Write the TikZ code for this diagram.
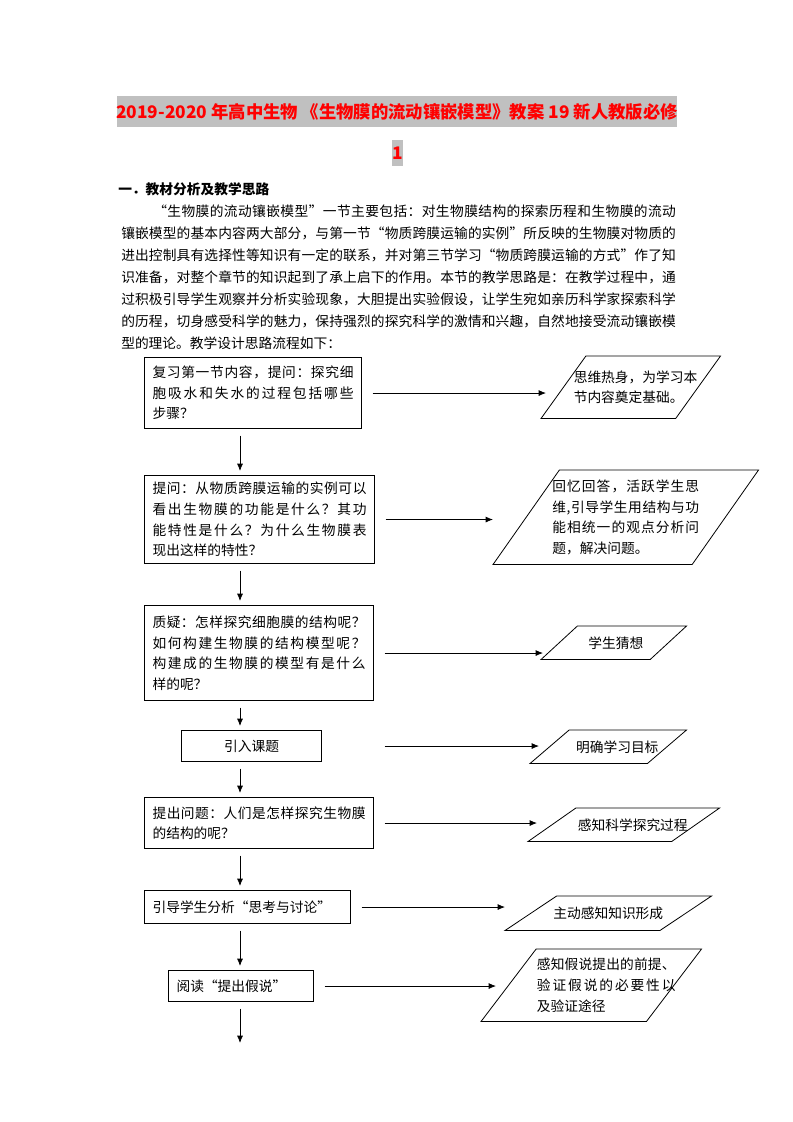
\documentclass[tikz,border=0pt]{standalone}
\usepackage{fontspec}
\setmainfont{Noto Sans CJK SC}
\usepackage{xcolor}
\usepackage{tikz}
\usetikzlibrary{arrows.meta,calc}

% etaler une ligne de caracteres sur une largeur donnee
\def\etale#1{\ifx#1\relax\unskip\else#1\hskip 0pt plus 1fil\relax\expandafter\etale\fi}
\newcommand\ligne[2]{\makebox[#1][s]{\etale#2\relax}}

\definecolor{surlignage}{RGB}{192,192,192}

\begin{document}
\begin{tikzpicture}[x=0.75pt,y=-0.75pt]
    % Styles (MODIFIABLES)
    \tikzstyle{fleche}=[-{Latex[length=5.5pt,width=4.5pt]},line width=0.6pt]
    \tikzstyle{descente}=[fleche,shorten <=5pt,shorten >=3pt]
    \tikzstyle{laterale}=[fleche,shorten <=8pt]
    \tikzstyle{trait}=[line width=0.6pt]
    \tikzstyle{titre}=[text=red,inner sep=0pt,font=\bfseries\fontsize{13}{16}\selectfont]
    \tikzstyle{texte}=[anchor=west,inner sep=0pt,font=\fontsize{10.3}{15}\selectfont]
    \tikzstyle{etape}=[draw,line width=0.8pt,anchor=north west,inner xsep=6pt,inner ysep=2pt,align=left,font=\fontsize{10.3}{15.4}\selectfont]
    \tikzstyle{sortie}=[anchor=north west,inner sep=2pt,align=left,font=\fontsize{10.3}{15.4}\selectfont]
    % Contour en parallelogramme d'un noeud sortie (#2 : decalage du contour)
    \def\contour#1#2{\draw[trait] ($(#1.north west)!0.25!(#1.north east)+(#2,0)$) -- ($(#1.north east)+(#2,0)$) -- ($(#1.south east)!0.25!(#1.south west)+(#2,0)$) -- ($(#1.south west)+(#2,0)$) -- cycle;}
    % Page
    \fill[white] (0,0) rectangle (793,1122);
    \useasboundingbox (0,0) rectangle (793,1122);
    % Titre
    \fill[surlignage] (117,96) rectangle (677,127);
    \fill[surlignage] (392,140) rectangle (403,166);
    \node[titre] (T1) at (397,111.5) {2019-2020 年高中生物 《生物膜的流动镶嵌模型》教案 19 新人教版必修};
    \node[titre] (T2) at (397.5,153) {1};
    % Texte
    \node[texte,font=\bfseries\fontsize{10.3}{15}\selectfont] (H) at (118,189) {一．教材分析及教学思路};
    \node[texte] (L1) at (153,211) {\ligne{392pt}{“生物膜的流动镶嵌模型”一节主要包括：对生物膜结构的探索历程和生物膜的流动}};
    \node[texte] (L2) at (121,233) {\ligne{416pt}{镶嵌模型的基本内容两大部分，与第一节“物质跨膜运输的实例”所反映的生物膜对物质的}};
    \node[texte] (L3) at (121,255) {\ligne{416pt}{进出控制具有选择性等知识有一定的联系，并对第三节学习“物质跨膜运输的方式”作了知}};
    \node[texte] (L4) at (121,277) {\ligne{416pt}{识准备，对整个章节的知识起到了承上启下的作用。本节的教学思路是：在教学过程中，通}};
    \node[texte] (L5) at (121,299) {\ligne{416pt}{过积极引导学生观察并分析实验现象，大胆提出实验假设，让学生宛如亲历科学家探索科学}};
    \node[texte] (L6) at (121,321) {\ligne{416pt}{的历程，切身感受科学的魅力，保持强烈的探究科学的激情和兴趣，自然地接受流动镶嵌模}};
    \node[texte] (L7) at (121,343) {型的理论。教学设计思路流程如下：};
    % Noeuds : etapes (MODIFIABLES)
    \node[etape,text width=150.75pt,minimum width=162.75pt,minimum height=53.25pt] (E1) at (144,357)
        {\ligne{\hsize}{复习第一节内容，提问：探究细}\\\ligne{\hsize}{胞吸水和失水的过程包括哪些}\\步骤？};
    \node[etape,text width=160.5pt,minimum width=172.5pt,minimum height=66pt] (E2) at (144,475)
        {\ligne{\hsize}{提问：从物质跨膜运输的实例可以}\\\ligne{\hsize}{看出生物膜的功能是什么？其功}\\\ligne{\hsize}{能特性是什么？为什么生物膜表}\\现出这样的特性？};
    \node[etape,text width=159.75pt,minimum width=171.75pt,minimum height=71.25pt] (E3) at (144,605)
        {\ligne{\hsize}{质疑：怎样探究细胞膜的结构呢？}\\\ligne{\hsize}{如何构建生物膜的结构模型呢？}\\\ligne{\hsize}{构建成的生物膜的模型有是什么}\\样的呢？};
    \node[etape,minimum width=105pt,minimum height=23.25pt] (E4) at (181,730) {引入课题};
    \node[etape,text width=159.75pt,minimum width=171.75pt,minimum height=38.25pt] (E5) at (144,797)
        {\ligne{\hsize}{提出问题：人们是怎样探究生物膜}\\的结构的呢？};
    \node[etape,text width=142.5pt,minimum width=154.5pt,minimum height=24.75pt] (E6) at (144,890) {引导学生分析“思考与讨论”};
    \node[etape,text width=96.75pt,minimum width=108.75pt,minimum height=23.25pt] (E7) at (168,970) {阅读“提出假说”};
    % Noeuds : sorties (MODIFIABLES)
    \node[sortie,text width=93pt,minimum width=134.25pt,minimum height=46.5pt] (P1) at (546,356)
        {思维热身，为学习本\\节内容奠定基础。};
    \node[sortie,text width=110pt,minimum width=198.75pt,minimum height=70.5pt] (P2) at (493,470)
        {\ligne{\hsize}{回忆回答，活跃学生思}\\\ligne{\hsize}{维,引导学生用结构与功}\\\ligne{\hsize}{能相统一的观点分析问}\\题，解决问题。};
    \node[sortie,minimum width=108.75pt,minimum height=24.75pt] (P3) at (543,626) {学生猜想};
    \node[sortie,minimum width=117pt,minimum height=24.75pt] (P4) at (539,730) {明确学习目标};
    \node[sortie,minimum width=143.25pt,minimum height=24.75pt] (P5) at (537,808) {感知科学探究过程};
    \node[sortie,minimum width=154.5pt,minimum height=25.5pt] (P6) at (505,896) {主动感知知识形成};
    \node[sortie,text width=104pt,minimum width=165pt,minimum height=54pt] (P7) at (496,949)
        {\ligne{\hsize}{感知假说提出的前提、}\\\ligne{\hsize}{验证假说的必要性以}\\及验证途径};
    \contour{P1}{-5} \contour{P2}{0} \contour{P3}{-2} \contour{P4}{-9}
    \contour{P5}{-9} \contour{P6}{0} \contour{P7}{-15}
    % Arcs (MODIFIABLES : Styles)
    \coordinate (C) at (240,0);
    \coordinate (F) at (240,1047);
    \draw[descente] (E1.south -| C) -- (E2.north -| C);
    \draw[descente] (E2.south -| C) -- (E3.north -| C);
    \draw[descente] (E3.south -| C) -- (E4.north -| C);
    \draw[descente] (E4.south -| C) -- (E5.north -| C);
    \draw[descente] (E5.south -| C) -- (E6.north -| C);
    \draw[descente] (E6.south -| C) -- (E7.north -| C);
    \draw[descente] (E7.south -| C) -- (F);
    \draw[laterale] (E1.east) -- (E1.east -| P1.west);
    \draw[laterale] (E2.east) -- (E2.east -| P2.west);
    \draw[laterale] (E3.east) -- (E3.east -| P3.west);
    \draw[laterale] (E4.east -| E3.east) -- (E4.east -| P4.west);
    \draw[laterale] (E5.east) -- (E5.east -| P5.west);
    \draw[laterale] (E6.east) -- (E6.east -| P6.west);
    \draw[laterale] (E7.east) -- (E7.east -| P7.west);
\end{tikzpicture}
\end{document}
